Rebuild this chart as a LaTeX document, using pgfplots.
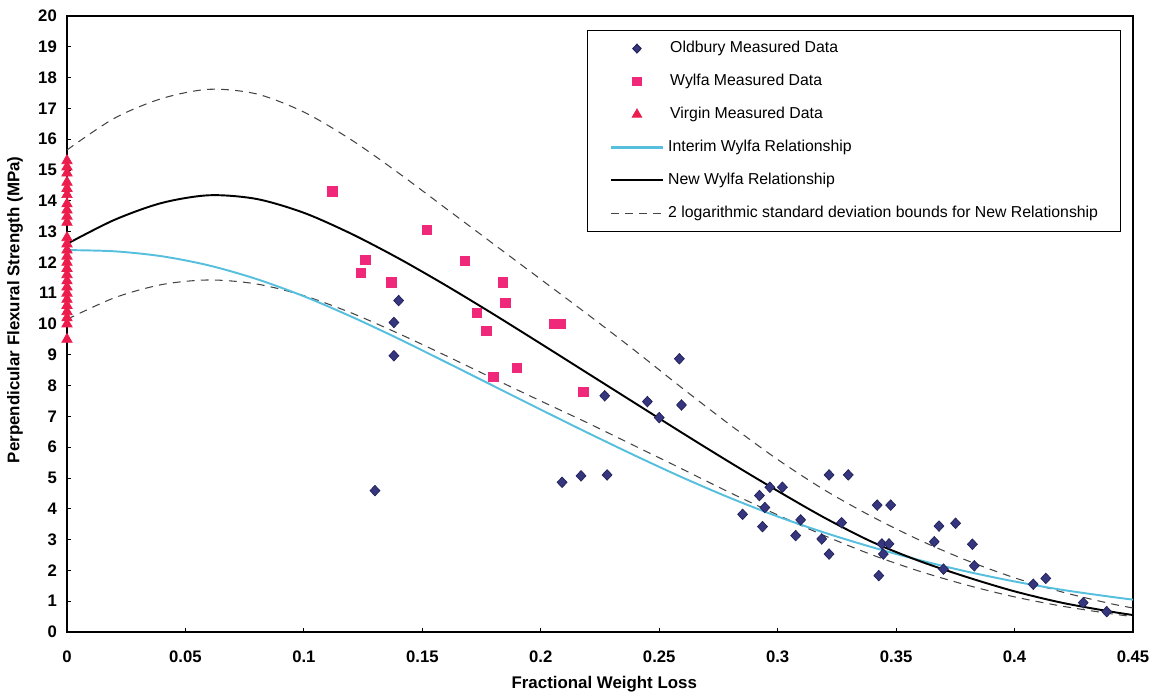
\documentclass[border=0pt]{standalone}
\usepackage{fontspec}
\setmainfont{Liberation Sans}
\usepackage{pgfplots}
\pgfplotsset{compat=1.18}
\definecolor{oldbury}{HTML}{36367F}
\definecolor{oldburyedge}{HTML}{22225A}
\definecolor{wylfa}{HTML}{F0287A}
\definecolor{virgin}{HTML}{EC1C4C}
\definecolor{interim}{HTML}{55BFDD}
\definecolor{bound}{HTML}{444444}
\pgfplotsset{
    markleg/.style={legend image code/.code={\draw[##1] plot coordinates {(0.52cm,0cm)};}},
    lineleg/.style={legend image code/.code={\draw[##1] (0cm,0cm) -- (1.04cm,0cm);}},
}

\begin{document}
\begin{tikzpicture}
\begin{axis}[
    at={(0,0)}, anchor=south west, scale only axis,
    width=21.32cm, height=12.32cm,
    xmin=0, xmax=0.45, ymin=0, ymax=20,
    clip=false,
    xtick={0,0.05,0.1,0.15,0.2,0.25,0.3,0.35,0.4,0.45},
    xticklabels={0,0.05,0.1,0.15,0.2,0.25,0.3,0.35,0.4,0.45},
    ytick={0,1,...,20},
    xtick pos=bottom, ytick pos=left, tick align=inside,
    major tick length=0.08cm,
    /pgf/number format/assume math mode=true,
    tick label style={font=\fontsize{9.5}{11}\selectfont\bfseries},
    xticklabel style={yshift=-0.26cm},
    yticklabel style={xshift=-0.08cm},
    axis line style={line width=0.9pt, black},
    tick style={black, line width=0.5pt},
    xlabel={Fractional Weight Loss},
    ylabel={Perpendicular Flexural Strength (MPa)},
    label style={font=\fontsize{9.6}{11}\selectfont\bfseries},
    xlabel style={at={(axis description cs:0.504,-0.0844)}, anchor=center},
    ylabel style={at={(axis description cs:-0.0488,0.523)}, anchor=center},
    legend style={at={(0.488,0.977)}, anchor=north west,
        draw=black, line width=0.6pt, fill=white,
        inner xsep=0.44cm, inner ysep=0.2cm, row sep=0.343cm,
        font=\fontsize{9}{10}\selectfont,
        nodes={text height=7pt, text depth=2pt, inner sep=0pt, anchor=west},
        cells={anchor=west}},
    legend cell align=left,
]

% legend
\addlegendimage{only marks, mark=diamond*, mark size=2.5pt, mark options={xscale=1.25, fill=oldbury, draw=oldburyedge}, markleg}
\addlegendentry{\hspace{0.12cm}Oldbury Measured Data}
\addlegendimage{only marks, mark=square*, mark size=2.4pt, mark options={fill=wylfa, draw=wylfa}, markleg}
\addlegendentry{\hspace{0.12cm}Wylfa Measured Data}
\addlegendimage{only marks, mark=triangle*, mark size=3pt, mark options={fill=virgin, draw=virgin}, markleg}
\addlegendentry{\hspace{0.12cm}Virgin Measured Data}
\addlegendimage{draw=interim, line width=1.4pt, lineleg}
\addlegendentry{\hspace{0.08cm}Interim Wylfa Relationship}
\addlegendimage{draw=black, line width=1.1pt, lineleg}
\addlegendentry{\hspace{0.08cm}New Wylfa Relationship}
\addlegendimage{draw=bound, line width=0.6pt, dash pattern=on 4.5pt off 3.5pt, lineleg}
\addlegendentry{\hspace{0.08cm}2 logarithmic standard deviation bounds for New Relationship}

% upper bound
\addplot[forget plot, bound, line width=0.6pt, dash pattern=on 4.5pt off 3.5pt, smooth] coordinates {
(0,15.65) (0.02,16.68) (0.04,17.32) (0.06,17.62) (0.08,17.47) (0.10,16.88) (0.12,15.98)
(0.14,14.9) (0.16,13.75) (0.18,12.6) (0.20,11.45) (0.22,10.3) (0.24,9.12) (0.26,7.9)
(0.28,6.72) (0.30,5.6) (0.32,4.6) (0.34,3.74) (0.36,2.98) (0.38,2.32) (0.40,1.76)
(0.42,1.3) (0.44,0.93) (0.45,0.78)};
% lower bound
\addplot[forget plot, bound, line width=0.6pt, dash pattern=on 4.5pt off 3.5pt, smooth] coordinates {
(0,10.15) (0.02,10.85) (0.04,11.28) (0.06,11.43) (0.08,11.3) (0.10,10.92) (0.12,10.36)
(0.14,9.69) (0.16,8.97) (0.18,8.23) (0.20,7.5) (0.22,6.78) (0.24,6.03) (0.26,5.28)
(0.28,4.52) (0.30,3.8) (0.32,3.12) (0.34,2.5) (0.36,1.97) (0.38,1.52) (0.40,1.14)
(0.42,0.84) (0.44,0.6) (0.45,0.5)};
% interim Wylfa
\addplot[forget plot, interim, line width=1.1pt, smooth] coordinates {
(0,12.4) (0.02,12.36) (0.04,12.2) (0.06,11.9) (0.08,11.46) (0.10,10.9) (0.12,10.24)
(0.14,9.52) (0.16,8.76) (0.18,7.99) (0.20,7.22) (0.22,6.46) (0.24,5.72) (0.26,5.01)
(0.28,4.35) (0.30,3.75) (0.32,3.22) (0.34,2.75) (0.36,2.33) (0.38,1.96) (0.40,1.64)
(0.42,1.37) (0.44,1.15) (0.45,1.05)};
% new Wylfa
\addplot[forget plot, black, line width=1.1pt, smooth] coordinates {
(0,12.6) (0.02,13.38) (0.04,13.93) (0.06,14.18) (0.08,14.06) (0.10,13.61) (0.12,12.93)
(0.14,12.13) (0.16,11.25) (0.18,10.32) (0.20,9.36) (0.22,8.39) (0.24,7.42) (0.26,6.45)
(0.28,5.5) (0.30,4.58) (0.32,3.7) (0.34,2.92) (0.36,2.3) (0.38,1.78) (0.40,1.32)
(0.42,0.95) (0.44,0.67) (0.45,0.55)};

% Oldbury
\addplot[forget plot, only marks, mark=diamond*, mark size=3pt, mark options={xscale=1.25, fill=oldbury, draw=oldburyedge}] coordinates {
(0.140,10.76) (0.138,10.05) (0.138,8.97) (0.130,4.59) (0.209,4.86) (0.217,5.07) (0.228,5.10)
(0.227,7.67) (0.2585,8.87) (0.245,7.48) (0.2594,7.37) (0.250,6.96)
(0.3217,5.10) (0.3298,5.10) (0.2967,4.70) (0.302,4.70) (0.2923,4.43) (0.2946,4.04)
(0.2852,3.82) (0.2936,3.42) (0.3097,3.64) (0.3076,3.13) (0.327,3.55) (0.3186,3.02)
(0.3217,2.53) (0.342,4.12) (0.3477,4.12) (0.344,2.86) (0.347,2.86) (0.3446,2.53)
(0.3427,1.83) (0.3681,3.44) (0.3661,2.93) (0.3751,3.53) (0.3822,2.85) (0.383,2.15)
(0.370,2.04) (0.4079,1.55) (0.4132,1.74) (0.429,0.95) (0.4389,0.66)};
% Wylfa
\addplot[forget plot, only marks, mark=square*, mark size=2.7pt, mark options={fill=wylfa, draw=wylfa}] coordinates {
(0.112,14.3) (0.124,11.66) (0.126,12.08) (0.137,11.36) (0.152,13.05) (0.168,12.05)
(0.173,10.36) (0.177,9.77) (0.184,11.36) (0.185,10.68) (0.180,8.28) (0.190,8.57)
(0.2055,10.0) (0.2085,10.0) (0.218,7.79)};
% Virgin
\addplot[forget plot, only marks, mark=triangle*, mark size=3.4pt, mark options={fill=virgin, draw=virgin}] coordinates {
(0,9.5) (0,10.0) (0,10.2) (0,10.4) (0,10.6) (0,10.8) (0,11.0) (0,11.2) (0,11.4)
(0,11.6) (0,11.8) (0,12.0) (0,12.2) (0,12.4) (0,12.6) (0,12.8) (0,13.3) (0,13.5)
(0,13.7) (0,13.9) (0,14.2) (0,14.4) (0,14.6) (0,14.9) (0,15.1) (0,15.3)};
\end{axis}
\pgfresetboundingbox
\path (-1.34cm,-1.30cm) rectangle (21.86cm,12.64cm);
\end{tikzpicture}
\end{document}
